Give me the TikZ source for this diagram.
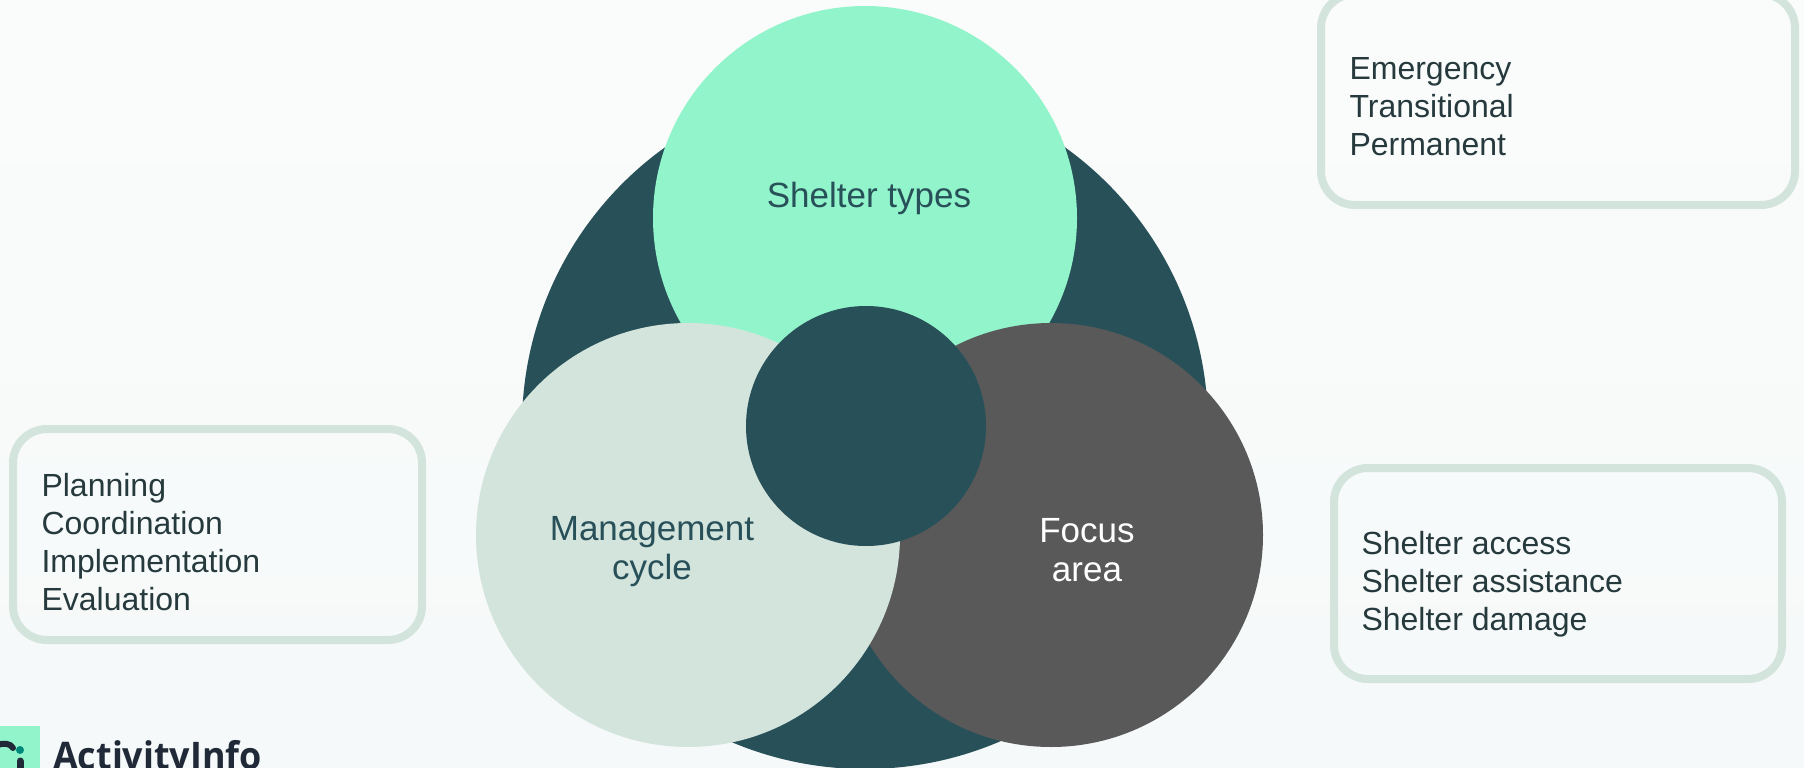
\documentclass[tikz,border=0pt]{standalone}
\usepackage{fontspec}
\setmainfont{Liberation Sans}
\newfontfamily\logofont[FakeStretch=0.945]{Open Sans}
\definecolor{deepteal}{HTML}{285059}
\definecolor{mint}{HTML}{92F4CA}
\definecolor{pale}{HTML}{D3E4DD}
\definecolor{slate}{HTML}{595959}
\definecolor{boxtext}{HTML}{263A3E}
\definecolor{logotext}{HTML}{1F2937}
\definecolor{logodot}{HTML}{00897B}
\definecolor{bgtop}{HTML}{FDFEFC}
\definecolor{bgbottom}{HTML}{F3F7F8}
\tikzset{
	disc/.style={circle,inner sep=0pt,minimum size=424pt},
	listbox/.style={draw=pale,line width=8pt,rounded corners=34pt},
	listtext/.style={anchor=west,align=left,text=boxtext,font=\fontsize{32}{38}\selectfont},
	disclabel/.style={align=center,font=\fontsize{35}{39}\selectfont}
}
\begin{document}
\begin{tikzpicture}[x=1pt,y=-1pt]
	\useasboundingbox (0,0) rectangle (1804,768);
	\clip (0,0) rectangle (1804,768);
	\shade[top color=bgtop,bottom color=bgbottom] (0,-384) rectangle (1804,1152);
	% circles
	\node[circle,inner sep=0pt,minimum size=686pt,fill=deepteal] (ring) at (865,426) {};
	\node[disc,fill=mint] (top) at (865,218) {};
	\node[disc,fill=slate] (right) at (1051,535) {};
	\node[disc,fill=pale] (left) at (688,535) {};
	\node[circle,inner sep=0pt,minimum size=240pt,fill=deepteal] (hub) at (866,426) {};
	\node[disclabel,text=deepteal] (toplabel) at (869,198) {Shelter types};
	\node[disclabel,text=deepteal] (leftlabel) at (652,552) {Management\\cycle};
	\node[disclabel,text=white] (rightlabel) at (1087,550) {Focus\\area};
	% boxes
	\draw[listbox] (13,429) rectangle (422,640);
	\draw[listbox] (1334,468) rectangle (1782,679);
	\draw[listbox] (1321,-6) rectangle (1795,205);
	\node[listtext] (cyclelist) at (38,542) {Planning\\Coordination\\Implementation\\Evaluation};
	\node[listtext] (focuslist) at (1358,584) {Shelter access\\Shelter assistance\\Shelter damage};
	\node[listtext] (typelist) at (1346,107) {Emergency\\Transitional\\Permanent};
	% logo
	\fill[mint] (0,726) rectangle (40,768);
	\fill[logodot] (20,750) circle (4pt);
	\draw[logotext,line width=6pt,line cap=round] (-3,745) .. controls (4,743) and (10,743) .. (13,748);
	\draw[logotext,line width=7pt,line cap=round] (20,761) -- (20,772);
	\node[anchor=base west,inner sep=0pt,text=logotext,font=\logofont\bfseries\fontsize{38}{38}\selectfont] (logo) at (53,769) {ActivityInfo};
\end{tikzpicture}
\end{document}
